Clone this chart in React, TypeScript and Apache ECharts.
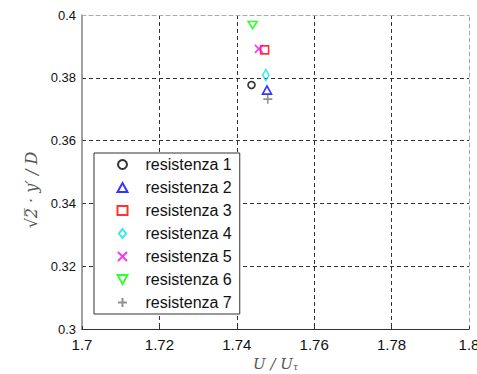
import React, { useEffect, useRef } from "react";
import * as echarts from "echarts";

const seriesNames = [
  "resistenza 1",
  "resistenza 2",
  "resistenza 3",
  "resistenza 4",
  "resistenza 5",
  "resistenza 6",
  "resistenza 7",
];
const xValues = [1.7438, 1.7478, 1.7472, 1.7475, 1.7457, 1.7441, 1.748];
const yValues = [0.3777, 0.3761, 0.3889, 0.3809, 0.3892, 0.3968, 0.3732];
const colors = ["#000000", "#0000ff", "#ff0000", "#00e5e5", "#ff00ff", "#00ff00", "#777777"];
const symbols = [
  "circle",
  "path://M5,0L10,9L0,9Z",
  "rect",
  "path://M4,0L8,5L4,10L0,5Z",
  "path://M0,0L10,10M10,0L0,10",
  "path://M0,0L10,0L5,9Z",
  "path://M5,0L5,10M0,5L10,5",
];
const symbolSizes = [7, 9, 8, [8, 11], 8, [9, 8], 9];
const xTicks = [1.7, 1.72, 1.74, 1.76, 1.78, 1.8];
const yTicks = [0.3, 0.32, 0.34, 0.36, 0.38, 0.4];

export default function App() {
  const ref = useRef<HTMLDivElement>(null);
  useEffect(() => {
    if (!ref.current) return;
    const chart = echarts.init(ref.current, null, { renderer: "svg" });
    const font = "Liberation Sans, Arial, Helvetica, sans-serif";
    chart.setOption({
      animation: false,
      backgroundColor: "#ffffff",
      grid: { left: 82, right: 8, top: 15, bottom: 45, containLabel: false, outerBoundsMode: "none" },
      legend: {
        orient: "vertical",
        left: 94,
        top: 153,
        itemWidth: 10,
        itemHeight: 9,
        itemGap: 6,
        padding: [3, 8, 3, 21],
        backgroundColor: "#ffffff",
        borderColor: "#333333",
        borderWidth: 1,
        borderRadius: 0,
        textStyle: { fontFamily: font, fontSize: 16, color: "#111", lineHeight: 17, padding: [0, 0, 0, 13] },
        data: seriesNames,
        z: 10,
      },
      xAxis: [
        {
          type: "value",
          min: xTicks[0],
          max: xTicks[xTicks.length - 1],
          interval: 0.02,
          position: "bottom",
          axisLine: { show: true, onZero: false, lineStyle: { color: "#333", width: 1.2 } },
          axisTick: { show: true, inside: true, length: 3, lineStyle: { color: "#333" } },
          axisLabel: {
            fontFamily: font,
            fontSize: 15,
            color: "#111",
            margin: 8,
            formatter: (v: number) => String(Math.round(v * 100) / 100),
          },
          splitLine: {
            show: true,
            showMinLine: false,
            showMaxLine: false,
            lineStyle: { color: "#333", type: [4, 3], width: 1 },
          },
          name: "{i|U / U}{s|τ}",
          nameLocation: "middle",
          nameGap: 26,
          nameTextStyle: {
            rich: {
              i: { fontFamily: "DejaVu Serif, serif", fontStyle: "italic", fontSize: 15, color: "#555" },
              s: { fontFamily: "DejaVu Serif, serif", fontStyle: "italic", fontSize: 9, color: "#555", padding: [6, 0, 0, 0] },
            },
          },
        },
        {
          type: "value",
          min: xTicks[0],
          max: xTicks[xTicks.length - 1],
          interval: 0.02,
          position: "top",
          axisLine: { show: true, onZero: false, lineStyle: { color: "#aaa", type: [4, 3], width: 1 } },
          axisTick: { show: false },
          axisLabel: { show: false },
          splitLine: { show: false },
        },
      ],
      yAxis: [
        {
          type: "value",
          min: yTicks[0],
          max: yTicks[yTicks.length - 1],
          interval: 0.02,
          position: "left",
          axisLine: { show: true, onZero: false, lineStyle: { color: "#808080", width: 1.5 } },
          axisTick: { show: false },
          axisLabel: {
            fontFamily: font,
            fontSize: 13,
            color: "#111",
            margin: 6,
            formatter: (v: number) => String(Math.round(v * 100) / 100),
          },
          splitLine: {
            show: true,
            showMinLine: false,
            showMaxLine: false,
            lineStyle: { color: "#333", type: [4, 3], width: 1 },
          },
        },
        {
          type: "value",
          min: yTicks[0],
          max: yTicks[yTicks.length - 1],
          interval: 0.02,
          position: "right",
          axisLine: { show: true, onZero: false, lineStyle: { color: "#aaa", type: [4, 3], width: 1 } },
          axisTick: { show: false },
          axisLabel: { show: false },
          splitLine: { show: false },
        },
      ],
      graphic: [
        {
          type: "text",
          x: 31,
          y: 190,
          rotation: Math.PI / 2,
          style: {
            text: "√2̅ · y′ / D",
            fontFamily: "DejaVu Serif, serif",
            fontStyle: "italic",
            fontSize: 16,
            fill: "#555",
            align: "center",
            verticalAlign: "middle",
          },
        },
      ],
      series: seriesNames.map((name, i) => ({
        name,
        type: "scatter",
        xAxisIndex: 0,
        yAxisIndex: 0,
        symbol: symbols[i],
        symbolSize: symbolSizes[i],
        symbolKeepAspect: true,
        itemStyle: { color: "none", borderColor: colors[i], borderWidth: 1.6 },
        data: [[xValues[i], yValues[i]]],
        z: 5,
      })),
    });
    return () => chart.dispose();
  }, []);
  return <div ref={ref} style={{ width: 477, height: 374, position: "absolute", left: 0, top: 0 }} />;
}
